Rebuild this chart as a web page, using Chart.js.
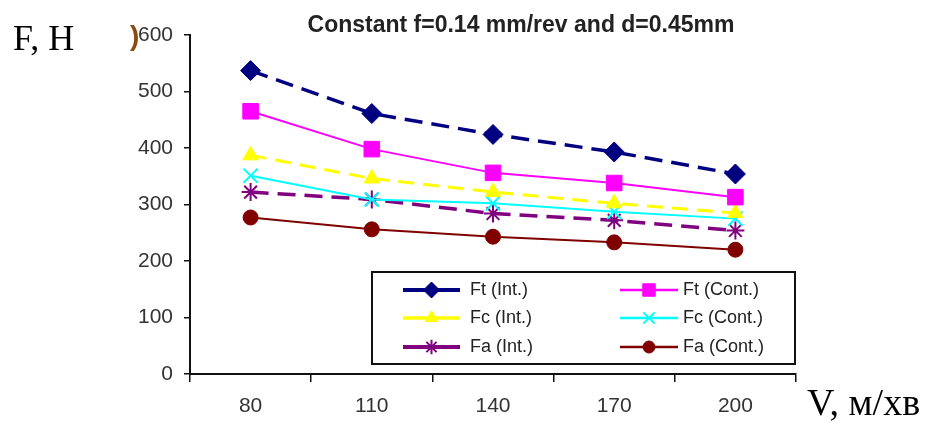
<!DOCTYPE html>
<html>
<head>
<meta charset="utf-8">
<script src="https://cdn.jsdelivr.net/npm/chart.js@4"></script>
<style>
  html, body { margin: 0; padding: 0; background: #fff; }
  #wrap { position: relative; width: 926px; height: 423px; }
</style>
</head>
<body>
<div id="wrap"><canvas id="myChart" width="926" height="423"></canvas></div>
<script>
"use strict";

// data
var speeds = ["80", "110", "140", "170", "200"];
var ftInt = [537, 461, 424, 393, 354];
var ftCont = [465, 398, 356, 338, 313];
var fcInt = [387, 346, 322, 302, 285];
var fcCont = [351, 309, 302, 287, 275];
var faInt = [322, 309, 284, 272, 254];
var faCont = [277, 256, 243, 233, 220];
var yTicks = [0, 100, 200, 300, 400, 500, 600];

var chartTitle = "Constant f=0.14 mm/rev and d=0.45mm";
var yName = "F, H";
var xName = "V, м/хв";

function series(label, values, color, opts) {
  return Object.assign({
    label: label,
    data: values,
    borderColor: color,
    backgroundColor: color,
    pointBackgroundColor: color,
    pointBorderColor: color,
    borderWidth: 2,
    pointBorderWidth: 1,
    tension: 0,
    fill: false
  }, opts);
}

var datasets = [
  series("Ft (Int.)", ftInt, "#000080", { borderWidth: 3.5, borderDash: [18, 9], pointStyle: "rectRot", pointRadius: 10 }),
  series("Ft (Cont.)", ftCont, "#ff00ff", { pointStyle: "rect", pointRadius: 11 }),
  series("Fc (Int.)", fcInt, "#ffff00", { borderWidth: 3, borderDash: [16, 9], pointStyle: "triangle", pointRadius: 9 }),
  series("Fc (Cont.)", fcCont, "#00ffff", { pointStyle: "crossRot", pointRadius: 10, pointBorderWidth: 2 }),
  series("Fa (Int.)", faInt, "#800080", { borderWidth: 3.5, borderDash: [18, 9], pointStyle: "star", pointRadius: 9, pointBorderWidth: 2 }),
  series("Fa (Cont.)", faCont, "#800000", { pointStyle: "circle", pointRadius: 7.5 })
];

// title, axis names and the boxed legend
var extras = {
  id: "extras",
  afterDatasetsDraw: function(chart) {
    var ctx = chart.ctx;
    ctx.save();
    ctx.fillStyle = "#222";
    ctx.textBaseline = "alphabetic";
    ctx.textAlign = "center";
    ctx.font = "bold 23px 'Liberation Sans', Arial, sans-serif";
    ctx.fillText(chartTitle, 521, 32);

    ctx.textAlign = "left";
    ctx.fillStyle = "#000";
    ctx.font = "36px 'Liberation Serif', 'Times New Roman', serif";
    ctx.fillText(yName, 13, 50);
    ctx.font = "38px 'Liberation Serif', 'Times New Roman', serif";
    ctx.fillText(xName, 807, 415);

    ctx.fillStyle = "#8a4a10";
    ctx.font = "bold 28px 'Liberation Sans', Arial, sans-serif";
    ctx.fillText(")", 130, 45);

    // legend box
    var bx = 372, by = 272, bw = 423, bh = 92;
    ctx.fillStyle = "#fff";
    ctx.fillRect(bx, by, bw, bh);
    ctx.strokeStyle = "#111";
    ctx.lineWidth = 2;
    ctx.strokeRect(bx, by, bw, bh);

    var cols = [{ x0: 403, x1: 460, tx: 470 }, { x0: 620, x1: 678, tx: 683 }];
    var rows = [290, 318, 347];
    ctx.font = "18px 'Liberation Sans', Arial, sans-serif";
    ctx.textBaseline = "middle";
    chart.data.datasets.forEach(function(ds, i) {
      var c = cols[i % 2];
      var y = rows[Math.floor(i / 2)];
      ctx.strokeStyle = ds.borderColor;
      ctx.lineWidth = ds.borderWidth + 0.5;
      ctx.setLineDash([]);
      ctx.beginPath();
      ctx.moveTo(c.x0, y);
      ctx.lineTo(c.x1, y);
      ctx.stroke();
      ctx.fillStyle = ds.pointBackgroundColor;
      ctx.strokeStyle = ds.pointBorderColor;
      ctx.lineWidth = ds.pointBorderWidth;
      Chart.helpers.drawPoint(ctx, {
        pointStyle: ds.pointStyle,
        radius: ds.pointRadius * 0.8,
        rotation: 0,
        borderWidth: ds.pointBorderWidth
      }, (c.x0 + c.x1) / 2, y);
      ctx.fillStyle = "#222";
      ctx.fillText(ds.label, c.tx, y);
    });
    ctx.restore();
  }
};

var tickFont = { family: "'Liberation Sans', Arial, sans-serif", size: 21 };

var ctx = document.getElementById("myChart").getContext("2d");
var myChart = new Chart(ctx, {
  type: "line",
  data: { labels: speeds, datasets: datasets },
  options: {
    responsive: false,
    animation: false,
    layout: { padding: { left: 0, right: 130, top: 35, bottom: 0 } },
    plugins: {
      legend: { display: false },
      title: { display: false },
      tooltip: { enabled: false }
    },
    scales: {
      x: {
        offset: true,
        grid: { offset: true, drawOnChartArea: false, color: "#111", lineWidth: 1.5, tickLength: 8 },
        border: { color: "#111", width: 2 },
        ticks: { color: "#333", font: tickFont, padding: 12, maxRotation: 0 },
        afterFit: function(scale) { scale.height = 49; }
      },
      y: {
        min: 0,
        max: 600,
        afterBuildTicks: function(scale) {
          scale.ticks = yTicks.map(function(v) { return { value: v }; });
        },
        grid: { drawOnChartArea: false, color: "#111", lineWidth: 1.5, tickLength: 6 },
        border: { color: "#111", width: 2 },
        ticks: { color: "#333", font: tickFont, padding: 11 },
        afterFit: function(scale) { scale.width = 190; }
      }
    }
  },
  plugins: [extras]
});
</script>
</body>
</html>
